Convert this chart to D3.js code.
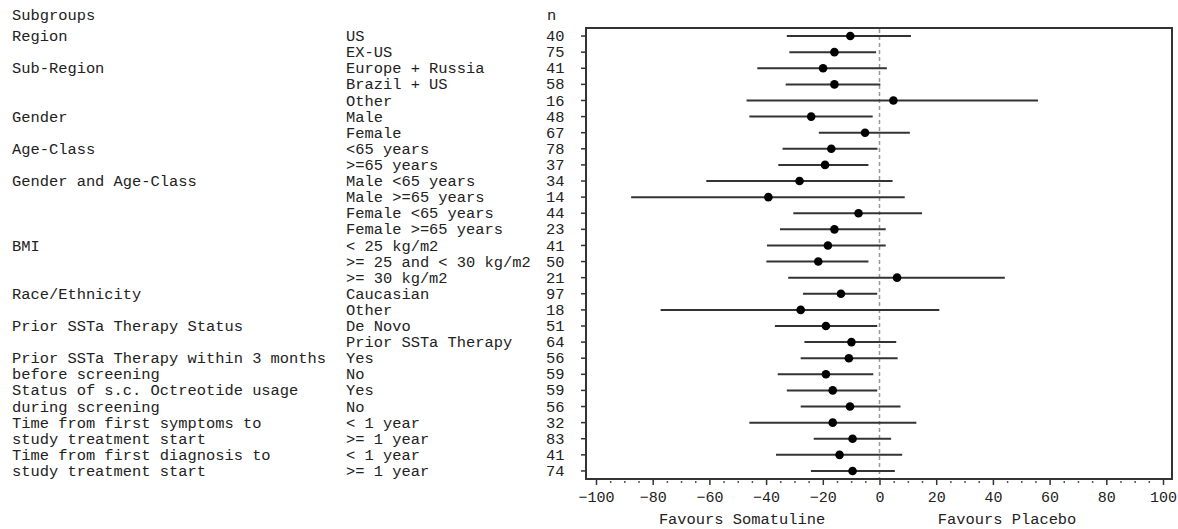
<!DOCTYPE html>
<html>
<head>
<meta charset="utf-8">
<script src="https://cdn.jsdelivr.net/npm/d3@7"></script>
<style>
  body { margin: 0; background: #fff; }
  text { font-family: "Courier New", "Liberation Mono", monospace; fill: #222; }
</style>
</head>
<body>
<svg id="chart" width="1178" height="529"></svg>
<script>
// subgroup headers (one per row, blank where the header continues)
var groups = ["Region", "", "Sub-Region", "", "", "Gender", "", "Age-Class", "",
  "Gender and Age-Class", "", "", "", "BMI", "", "", "Race/Ethnicity", "",
  "Prior SSTa Therapy Status", "", "Prior SSTa Therapy within 3 months", "before screening",
  "Status of s.c. Octreotide usage", "during screening", "Time from first symptoms to",
  "study treatment start", "Time from first diagnosis to", "study treatment start"]

var levels = ["US", "EX-US", "Europe + Russia", "Brazil + US", "Other", "Male", "Female",
  "<65 years", ">=65 years", "Male <65 years", "Male >=65 years", "Female <65 years",
  "Female >=65 years", "< 25 kg/m2", ">= 25 and < 30 kg/m2", ">= 30 kg/m2", "Caucasian",
  "Other", "De Novo", "Prior SSTa Therapy", "Yes", "No", "Yes", "No", "< 1 year",
  ">= 1 year", "< 1 year", ">= 1 year"]

var n = [40, 75, 41, 58, 16, 48, 67, 78, 37, 34, 14, 44, 23, 41, 50, 21, 97, 18, 51, 64,
  56, 59, 59, 56, 32, 83, 41, 74]

var est = [-10.3, -15.9, -19.9, -15.9, 4.9, -24.1, -5.1, -17.0, -19.2, -28.2, -39.2, -7.4,
  -15.9, -18.2, -21.6, 6.2, -13.6, -27.8, -18.9, -9.9, -10.8, -18.9, -16.5, -10.4, -16.5,
  -9.5, -14.1, -9.5]
var lower = [-32.7, -31.8, -43.1, -33.1, -46.9, -45.9, -21.4, -34.2, -35.7, -61.1, -87.6,
  -30.4, -35.1, -39.7, -39.9, -32.2, -27.0, -77.2, -36.9, -26.5, -27.8, -35.9, -32.7,
  -27.8, -45.9, -23.2, -36.5, -24.2]
var upper = [11.1, -1.2, 2.6, 0.3, 55.9, -2.4, 10.7, -0.7, -3.9, 4.6, 8.9, 15.0, 2.2, 2.2,
  -3.9, 44.2, -0.8, 21.1, -0.8, 5.9, 6.4, -2.2, -0.8, 7.4, 13.0, 4.1, 8.0, 5.4]

var xTicks = d3.range(-100, 101, 20)
var xMinor = d3.range(-100, 101, 5).filter(v => v % 20 != 0)
var favours = [{ text: "Favours Somatuline", at: -48.5 }, { text: "Favours Placebo", at: 45 }]

var svg = d3.select("#chart")
var fs = "15.4px"

var box = { left: 586, right: 1172, top: 28, bottom: 479 }
var x = d3.scaleLinear().domain([-100, 100]).range([596, 1163])
var y = d3.scaleBand().domain(d3.range(levels.length)).range([box.top, box.bottom])
var mid = i => y(i) + y.bandwidth() / 2

// headers
svg.append("text").attr("x", 12).attr("y", 20).style("font-size", fs).text("Subgroups")
svg.append("text").attr("x", 547).attr("y", 20).style("font-size", fs).text("n")

var rows = svg.append("g")
levels.forEach(function (lev, i) {
  var cy = mid(i)
  rows.append("text").attr("x", 12).attr("y", cy).attr("dy", "0.33em")
    .style("font-size", fs).style("white-space", "pre").text(groups[i])
  rows.append("text").attr("x", 346).attr("y", cy).attr("dy", "0.33em")
    .style("font-size", fs).style("white-space", "pre").text(lev)
  rows.append("text").attr("x", 546).attr("y", cy).attr("dy", "0.33em")
    .style("font-size", fs).text(n[i])
})

// plot frame
svg.append("rect").attr("x", box.left).attr("y", box.top)
  .attr("width", box.right - box.left).attr("height", box.bottom - box.top)
  .attr("fill", "none").attr("stroke", "#333").attr("stroke-width", 2)

// reference line at 0
svg.append("line").attr("x1", x(0)).attr("x2", x(0))
  .attr("y1", box.top + 1).attr("y2", box.bottom - 1)
  .attr("stroke", "#999").attr("stroke-width", 1.5).attr("stroke-dasharray", "4,3")

// left row ticks
var yAx = svg.append("g").attr("transform", "translate(" + box.left + ",0)")
  .call(d3.axisLeft(y).tickSize(5).tickFormat(""))
yAx.select(".domain").remove()
yAx.selectAll("line").attr("stroke", "#333").attr("stroke-width", 1.5)

// bottom axis
var xAx = svg.append("g").attr("transform", "translate(0," + box.bottom + ")")
  .call(d3.axisBottom(x).tickValues(xTicks).tickSize(6).tickPadding(6))
xAx.select(".domain").remove()
xAx.selectAll("line").attr("stroke", "#333").attr("stroke-width", 1.5)
xAx.selectAll("text").style("font-size", "15px").style("font-family", "'Courier New', 'Liberation Mono', monospace").attr("fill", "#222")

var xMin = svg.append("g").attr("transform", "translate(0," + box.bottom + ")")
  .call(d3.axisBottom(x).tickValues(xMinor).tickSize(4).tickFormat(""))
xMin.select(".domain").remove()
xMin.selectAll("line").attr("stroke", "#555").attr("stroke-width", 1.5)
  .attr("y1", 2)

favours.forEach(function (f) {
  svg.append("text").attr("x", x(f.at)).attr("y", 524).attr("text-anchor", "middle")
    .style("font-size", fs).text(f.text)
})

// confidence intervals and estimates
var marks = svg.append("g")
marks.selectAll("line.ci").data(levels).enter().append("line").attr("class", "ci")
  .attr("x1", (d, i) => x(lower[i])).attr("x2", (d, i) => x(upper[i]))
  .attr("y1", (d, i) => mid(i)).attr("y2", (d, i) => mid(i))
  .attr("stroke", "#333").attr("stroke-width", 2)
marks.selectAll("circle").data(levels).enter().append("circle")
  .attr("cx", (d, i) => x(est[i])).attr("cy", (d, i) => mid(i)).attr("r", 4.3)
  .attr("fill", "#000")
</script>
</body>
</html>
